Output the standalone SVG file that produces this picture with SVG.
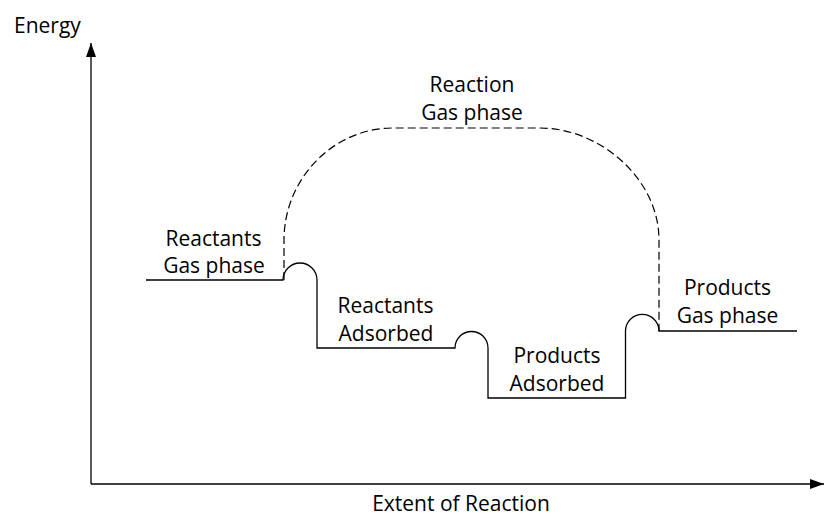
<svg xmlns="http://www.w3.org/2000/svg" width="824" height="518" viewBox="0 0 824 518">
<style>
text{font-family:"Open Sans","Liberation Sans",sans-serif;font-size:21px;fill:#000}
.c{text-anchor:middle}
.ln{fill:none;stroke:#000;stroke-width:1.3}
.dash{fill:none;stroke:#000;stroke-width:1.2;stroke-dasharray:8 4}
</style>
<defs>
<marker id="arr" viewBox="0 0 14 10" refX="14" refY="5" markerWidth="14" markerHeight="10" markerUnits="userSpaceOnUse" orient="auto">
<path d="M0,0 L14,5 L0,10 Z" fill="#000"/>
</marker>
</defs>
<g id="axes">
<line class="ln" x1="91" y1="484" x2="91" y2="43" marker-end="url(#arr)"/>
<line class="ln" x1="91" y1="484" x2="824" y2="484" marker-end="url(#arr)"/>
<text x="14" y="33">Energy</text>
<text class="c" x="461" y="511">Extent of Reaction</text>
</g>
<g id="connectors">
<path class="ln" d="M146,280 L283,280 A17,17 0 0 1 317,280 L317,348 L455,348 A16.5,16.5 0 0 1 488,348 L488,398 L625.5,398 L625.5,331 A16.75,16.75 0 0 1 659,331 L797,331"/>
<path class="dash" d="M284,280 L284,240 C284,179 333,128 393,128 L540,128 C600,128 659,179 659,240 L659,331"/>
</g>
<g id="reactants-gas">
<text class="c" x="213.5" y="246">Reactants</text>
<text class="c" x="214" y="273">Gas phase</text>
</g>
<g id="reaction-gas">
<text class="c" x="472" y="92">Reaction</text>
<text class="c" x="472" y="120">Gas phase</text>
</g>
<g id="reactants-adsorbed">
<text class="c" x="385.5" y="313">Reactants</text>
<text class="c" x="386" y="341">Adsorbed</text>
</g>
<g id="products-adsorbed">
<text class="c" x="557" y="363">Products</text>
<text class="c" x="557" y="391">Adsorbed</text>
</g>
<g id="products-gas">
<text class="c" x="727.5" y="295">Products</text>
<text class="c" x="727.5" y="323">Gas phase</text>
</g>
</svg>
